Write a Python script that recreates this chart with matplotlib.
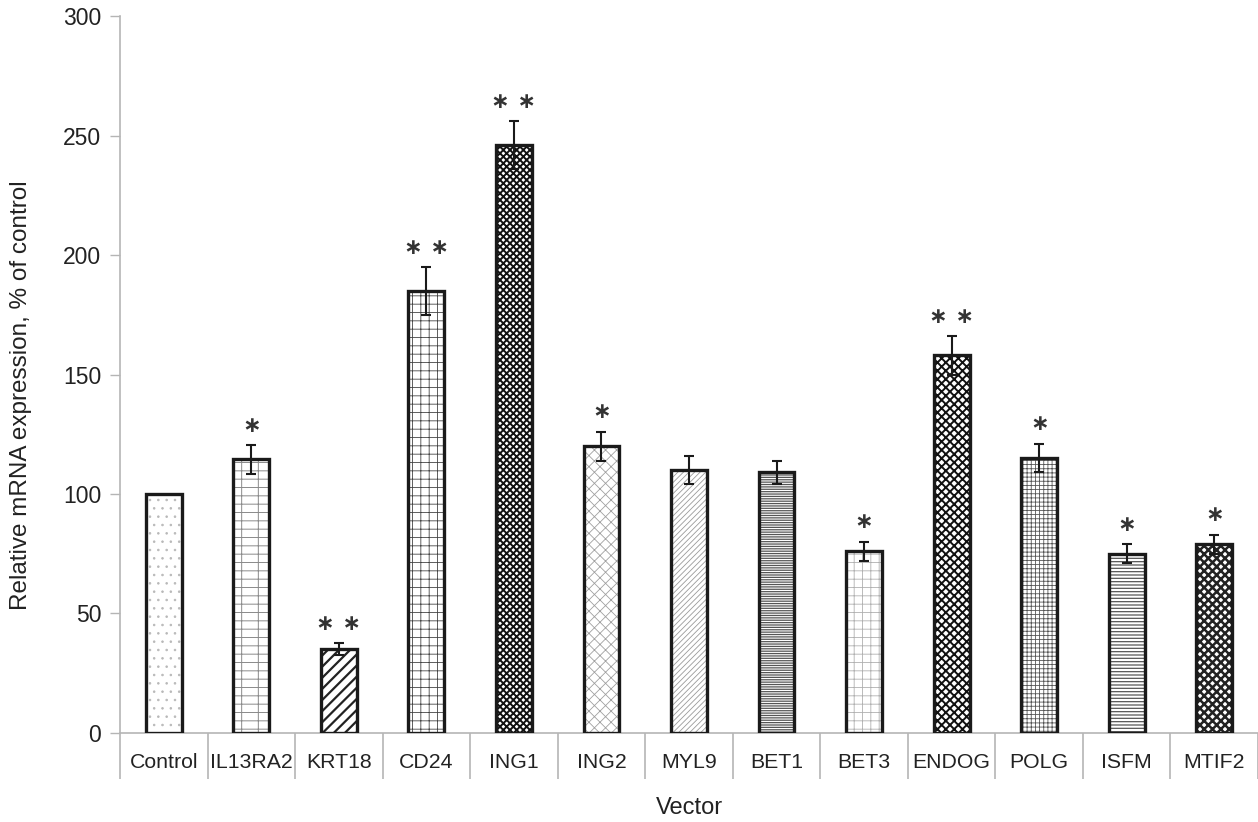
import matplotlib
matplotlib.use("Agg")
import matplotlib.pyplot as plt

plt.rcParams['font.family'] = ['Liberation Sans', 'DejaVu Sans']

# Data
vectors = ["Control", "IL13RA2", "KRT18", "CD24", "ING1", "ING2", "MYL9",
           "BET1", "BET3", "ENDOG", "POLG", "ISFM", "MTIF2"]
expression = [100, 114.5, 35, 185, 246, 120, 110, 109, 76, 158, 115, 75, 79]
errors = [0, 6, 2.5, 10, 10, 6, 6, 5, 4, 8, 6, 4, 4]
significance = ["", "*", "**", "**", "**", "*", "", "", "*", "**", "*", "*", "*"]
y_ticks = [0, 50, 100, 150, 200, 250, 300]

# Fill pattern for each bar: (hatch, hatch colour, hatch line width)
patterns = [
    ("..", "#b8b8b8", 0.6),
    ("--|", "#8a8a8a", 0.7),
    ("///", "#222222", 1.6),
    ("++", "#444444", 0.6),
    ("xxxxx", "#111111", 1.4),
    ("xxx", "#a0a0a0", 0.6),
    ("//////", "#9a9a9a", 0.6),
    ("-------", "#555555", 0.9),
    ("++", "#b0b0b0", 0.6),
    ("xxxx", "#111111", 1.4),
    ("++++", "#555555", 0.6),
    ("-----", "#555555", 0.9),
    ("xxxx", "#222222", 1.8),
]

fig = plt.figure(figsize=(12.58, 8.22), dpi=100)
ax = fig.add_axes([0.0954, 0.1083, 0.9046, 0.8722])

x = list(range(len(vectors)))
width = 0.41

for xi, val, (hatch, hcol, hlw) in zip(x, expression, patterns):
    with plt.rc_context({'hatch.linewidth': hlw}):
        b = ax.bar(xi, val, width, color="white", edgecolor=hcol,
                   hatch=hatch, linewidth=0, zorder=2)
    for p in b:
        if hasattr(p, "set_hatch_linewidth"):
            p.set_hatch_linewidth(hlw)

# Bar outlines
ax.bar(x, expression, width, fill=False, edgecolor="#1a1a1a",
       linewidth=2.4, zorder=3)

# Error bars (control has none)
err_x = [xi for xi, e in zip(x, errors) if e > 0]
err_y = [v for v, e in zip(expression, errors) if e > 0]
err_e = [e for e in errors if e > 0]
ax.errorbar(err_x, err_y, yerr=err_e, fmt="none", ecolor="#1a1a1a",
            elinewidth=1.5, capsize=3.5, capthick=1.5, zorder=4)

# Significance marks above the error bars
for xi, val, e, s in zip(x, expression, errors, significance):
    if s:
        label = " ".join("\u2217" for _ in s)
        ax.annotate(label, (xi, val + e), xytext=(0, 14),
                    textcoords="offset points", ha="center", va="center",
                    fontsize=16, fontweight="bold", color="#333333",
                    family="DejaVu Sans", zorder=5)

ax.set_xlim(-0.5, len(vectors) - 0.5)
ax.set_ylim(0, 300)
ax.set_yticks(y_ticks)
ax.set_yticklabels([str(t) for t in y_ticks], fontsize=16.5, color="#222222")

# Category labels at centres, separators at boundaries
ax.set_xticks(x)
ax.set_xticklabels(vectors, fontsize=15.3, color="#222222")
ax.tick_params(axis="x", which="major", length=0, pad=14.5)
ax.set_xticks([i - 0.5 for i in range(len(vectors) + 1)], minor=True)
ax.tick_params(axis="x", which="minor", length=33, width=1.2,
               color="#b5b5b5", direction="out")
ax.tick_params(axis="y", length=7, width=1.0, color="#b5b5b5", pad=6.5)

for side in ("top", "right"):
    ax.spines[side].set_visible(False)
for side in ("left", "bottom"):
    ax.spines[side].set_color("#b5b5b5")
    ax.spines[side].set_linewidth(1.2)

fig.text(689 / 1258, 1 - 808 / 822, "Vector", fontsize=17, color="#222222",
         ha="center", va="center")
fig.text(21.5 / 1258, 1 - 395 / 822, "Relative mRNA expression, % of control",
         fontsize=17.5, color="#222222", rotation=90,
         ha="center", va="center")

fig.savefig("out.png", dpi=100)
